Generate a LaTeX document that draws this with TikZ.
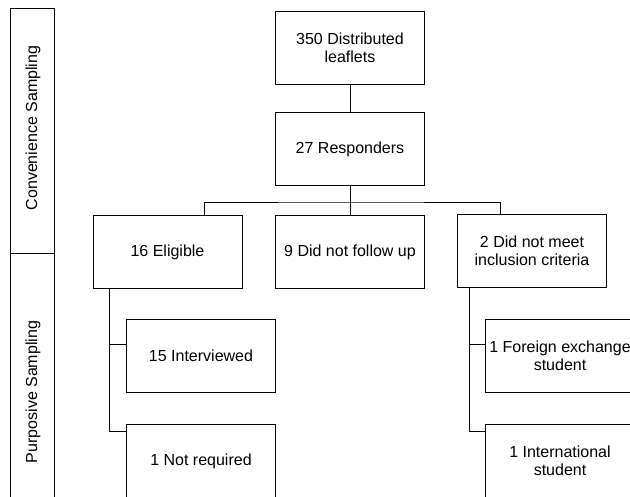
\documentclass[tikz,border=0pt]{standalone}
\usepackage{fontspec}
\setmainfont{Liberation Sans}
\begin{document}
\begin{tikzpicture}[x=1pt,y=-1pt,
  box/.style={draw, line width=1pt, rectangle, minimum width=149pt, minimum height=73pt, inner xsep=0pt, inner ysep=2pt, align=center, font=\fontsize{16}{17.5}\selectfont},
  lbl/.style={rotate=90, inner sep=0pt, font=\fontsize{16}{17.5}\selectfont},
  conn/.style={line width=1pt}]
\useasboundingbox (0,0) rectangle (630,496);
\clip (0,0) rectangle (630,496);
% side bands
\draw[conn] (10,8) rectangle (54,253);
\draw[conn] (10,253) rectangle (54,540);
\node[lbl] (conv) at (33,128) {Convenience Sampling};
\node[lbl] (purp) at (33,392) {Purposive Sampling};
% boxes
\node[box] (A) at (350,48) {350 Distributed\\leaflets};
\node[box] (B) at (350,149) {27 Responders};
\node[box] (C) at (167.5,252) {16 Eligible};
\node[box] (D) at (350,252) {9 Did not follow up};
\node[box] (E) at (532,251) {2 Did not meet\\inclusion criteria};
\node[box] (F) at (201,356) {15 Interviewed};
\node[box] (G) at (201,461) {1 Not required};
\node[box] (H) at (560,356) {1 Foreign exchange\\student};
\node[box] (I) at (560,461) {1 International\\student};
% connectors
\coordinate (busy) at (0,202);
\draw[conn] (A.south) -- (B.north);
\draw[conn] (B.south) -- (B.south |- busy);
\draw[conn] ([xshift=36.5pt]C.north) |- (B.south |- busy) -| ([xshift=-32pt]E.north);
\draw[conn] (D.north) -- (D.north |- busy);
\coordinate (ct) at ([xshift=-58.5pt]C.south);
\coordinate (fb) at ([yshift=12pt]F.west);
\draw[conn] (ct) |- ([yshift=-7pt]G.north west);
\draw[conn] (fb) -- (ct |- fb);
\coordinate (et) at ([xshift=-63pt]E.south);
\coordinate (hb) at ([yshift=12pt]H.west);
\draw[conn] (et) |- ([yshift=-7pt]I.north west);
\draw[conn] (hb) -- (et |- hb);
\end{tikzpicture}
\end{document}
